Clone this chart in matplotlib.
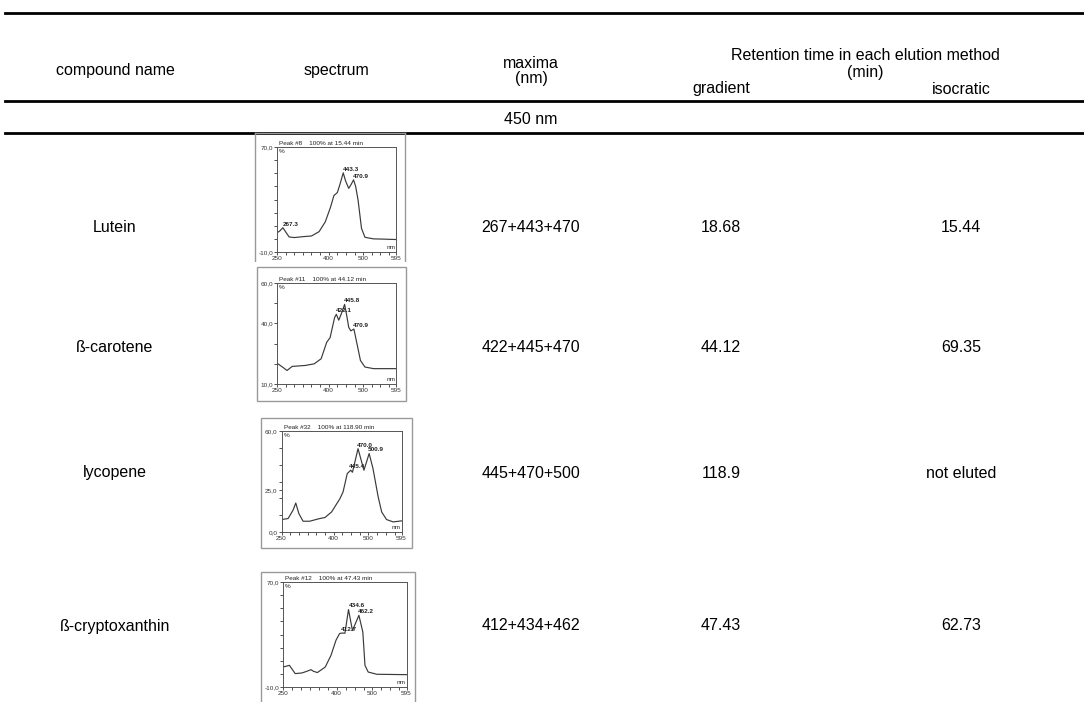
import matplotlib
matplotlib.use("Agg")
import matplotlib.pyplot as plt
from matplotlib.lines import Line2D
from matplotlib.patches import Rectangle

# ---------------- data ----------------
header_cols = ["compound name", "spectrum"]
header_maxima = ["maxima", "(nm)"]
header_group = ["Retention time in each elution method", "(min)"]
header_sub = ["gradient", "isocratic"]
section_label = "450 nm"

compounds = ["Lutein", "ß-carotene", "lycopene", "ß-cryptoxanthin"]
maxima = ["267+443+470", "422+445+470", "445+470+500", "412+434+462"]
gradient_rt = ["18.68", "44.12", "118.9", "47.43"]
isocratic_rt = ["15.44", "69.35", "not eluted", "62.73"]

peak_titles = ["Peak #8    100% at 15.44 min", "Peak #11    100% at 44.12 min",
               "Peak #32    100% at 118.90 min", "Peak #12    100% at 47.43 min"]

lutein_nm = [250, 258, 267, 276, 285, 300, 330, 350, 372, 390, 405, 415, 425, 433,
             442, 449, 458, 465, 472, 478, 485, 495, 505, 530, 560, 595]
lutein_val = [4.6, 6.0, 8.5, 5.0, 1.5, 1.0, 1.8, 2.2, 5.5, 13.0, 24.0, 33.0, 35.3, 42.0,
              50.3, 44.0, 38.5, 41.5, 45.0, 40.0, 29.6, 8.0, 1.2, 0.0, -0.2, -0.5]
lutein_peak_nm = [267.3, 443.3, 470.9]
lutein_peak_val = [8.5, 50.3, 45.0]

carotene_nm = [250, 265, 279, 294, 333, 358, 378, 394, 404, 417, 422, 429, 437, 446,
               452, 458, 464, 473, 482, 492, 505, 530, 595]
carotene_val = [20.3, 18.5, 16.7, 18.7, 19.2, 20.0, 22.5, 30.6, 33.0, 42.9, 44.5, 41.6,
                45.0, 49.4, 44.0, 38.0, 36.3, 37.2, 29.8, 21.6, 18.4, 17.6, 17.6]
carotene_peak_nm = [422.1, 445.8, 470.9]
carotene_peak_val = [44.5, 49.4, 37.2]

lycopene_nm = [250, 269, 283, 291, 300, 312, 331, 360, 375, 394, 418, 427, 439, 449,
               454, 470, 487, 502, 513, 528, 538, 552, 571, 595]
lycopene_val = [7.4, 8.0, 12.9, 17.2, 10.9, 6.4, 6.4, 8.0, 8.6, 11.9, 19.8, 23.8, 34.7,
                36.7, 35.5, 49.5, 36.7, 46.6, 37.7, 20.8, 11.9, 7.4, 6.0, 6.6]
lycopene_peak_nm = [445.4, 470.0, 500.9]
lycopene_peak_val = [36.7, 49.5, 46.6]

crypto_nm = [250, 268, 284, 303, 317, 328, 335, 346, 368, 384, 398, 408, 414, 423,
             433, 444, 462, 473, 479, 488, 512, 595]
crypto_val = [5.2, 6.5, 0.2, 0.7, 2.0, 3.2, 2.0, 1.0, 5.2, 14.1, 25.6, 30.7, 31.1, 31.0,
              49.0, 33.0, 44.6, 31.9, 6.5, 1.4, -0.3, -0.6]
crypto_peak_nm = [412.7, 434.6, 462.2]
crypto_peak_val = [31.1, 49.0, 44.6]

y_limits = [(-10, 70), (10, 60), (0, 60), (-10, 70)]
y_labeled = [[70, -10], [60, 40, 10], [60, 25, 0], [70, -10]]
y_ticklabels = [["70,0", "-10,0"], ["60,0", "40,0", "10,0"], ["60,0", "25,0", "0,0"],
                ["70,0", "-10,0"]]
x_labeled = [250, 400, 500, 595]
x_ticklabels = ["250", "400", "500", "595"]

spectra = [(lutein_nm, lutein_val, lutein_peak_nm, lutein_peak_val),
           (carotene_nm, carotene_val, carotene_peak_nm, carotene_peak_val),
           (lycopene_nm, lycopene_val, lycopene_peak_nm, lycopene_peak_val),
           (crypto_nm, crypto_val, crypto_peak_nm, crypto_peak_val)]

# ---------------- layout ----------------
W, H = 1084, 702
fig = plt.figure(figsize=(W / 100, H / 100), dpi=100)
plt.rcParams['font.family'] = ['Liberation Sans', 'DejaVu Sans']

def fx(x):
    return x / W

def fy(y):
    return 1 - y / H

FS = 11.5
BL = 5.5  # offset from visual centre of capitals to baseline, px

def txt(x, yc, s, **kw):
    fig.text(fx(x), fy(yc + BL), s, ha='center', va='baseline', fontsize=FS, **kw)

def hline(y, lw):
    fig.add_artist(Line2D([fx(5), fx(1084)], [fy(y), fy(y)], lw=lw, color='black'))

hline(13, 2.0)
hline(101, 2.0)
hline(133, 2.0)

col_x = [115, 336, 531, 721, 961]
txt(col_x[0], 70, header_cols[0])
txt(col_x[1], 70, header_cols[1])
txt(col_x[2], 62, header_maxima[0])
txt(col_x[2], 78, header_maxima[1])
txt(865, 55, header_group[0])
txt(865, 72, header_group[1])
txt(col_x[3], 88, header_sub[0])
txt(col_x[4], 88, header_sub[1])
txt(col_x[2], 119, section_label)

row_y = [226, 346, 472, 625]
for i in range(4):
    txt(col_x[0], row_y[i], compounds[i])
    txt(col_x[2], row_y[i], maxima[i])
    txt(col_x[3], row_y[i], gradient_rt[i])
    txt(col_x[4], row_y[i], isocratic_rt[i])

# spectrum images: outer frame (x0, y0, x1, y1) and inner axes (x0, y0, x1, y1) in pixels
outer_boxes = [(255, 133, 405, 262), (257, 267, 405.5, 400.5),
               (261, 418, 412, 548), (261, 572, 415, 720)]
inner_boxes = [(277, 147, 396, 252), (277, 283, 396, 384),
               (281.5, 431, 401.5, 532), (283, 582, 406.5, 687)]

SF = 4.6
for i, (nm, val, pk_nm, pk_val) in enumerate(spectra):
    ox0, oy0, ox1, oy1 = outer_boxes[i]
    if i == 0:
        # clipped image: draw left, top, right sides only
        for xs, ys in [([ox0, ox0], [oy0, oy1]), ([ox0, ox1], [oy0, oy0]), ([ox1, ox1], [oy0, oy1])]:
            fig.add_artist(Line2D([fx(v) for v in xs], [fy(v) for v in ys], lw=1.0,
                                  color='#9a9a9a'))
    else:
        fig.add_artist(Rectangle((fx(ox0), fy(oy1)), fx(ox1) - fx(ox0), fy(oy0) - fy(oy1),
                                 fill=False, edgecolor='#9a9a9a', lw=1.0))
    ix0, iy0, ix1, iy1 = inner_boxes[i]
    ax = fig.add_axes([fx(ix0), fy(iy1), fx(ix1) - fx(ix0), fy(iy0) - fy(iy1)])
    ax.plot(nm, val, color='#3a3a3a', lw=0.85)
    ax.set_xlim(250, 595)
    ax.set_ylim(*y_limits[i])
    xt = list(range(250, 595, 25)) + [595]
    ax.set_xticks(xt)
    ax.set_xticklabels([x_ticklabels[x_labeled.index(t)] if t in x_labeled else "" for t in xt])
    lo, hi = y_limits[i]
    yt = sorted(set(list(range(int(lo), int(hi) + 1, 10)) + y_labeled[i]))
    ax.set_yticks(yt)
    ax.set_yticklabels([y_ticklabels[i][y_labeled[i].index(t)] if t in y_labeled[i] else ""
                        for t in yt])
    ax.tick_params(direction='out', length=2, width=0.6, labelsize=SF, pad=0.8,
                   colors='#333333')
    for s in ax.spines.values():
        s.set_linewidth(0.7)
        s.set_color('#555555')
    ax.patch.set_alpha(0)
    ax.text(0.02, 1.01, peak_titles[i], transform=ax.transAxes, ha='left', va='bottom',
            fontsize=SF, color='#222222')
    ax.text(0.015, 0.985, "%", transform=ax.transAxes, ha='left', va='top',
            fontsize=SF, color='#222222')
    ax.text(0.995, 0.02, "nm", transform=ax.transAxes, ha='right', va='bottom',
            fontsize=SF, color='#222222')
    for p, v in zip(pk_nm, pk_val):
        ax.annotate(f"{p:.1f}", (p, v), xytext=(-0.5, 0.8), textcoords='offset points',
                    ha='left', va='bottom', fontsize=SF, fontweight='bold', color='#222222')

# the first spectrum image is cropped just below its axis labels
fig.add_artist(Rectangle((fx(250), fy(266)), fx(412) - fx(250), fy(262) - fy(266),
                         facecolor='white', edgecolor='none', zorder=10))

fig.savefig("out.png", dpi=100)
